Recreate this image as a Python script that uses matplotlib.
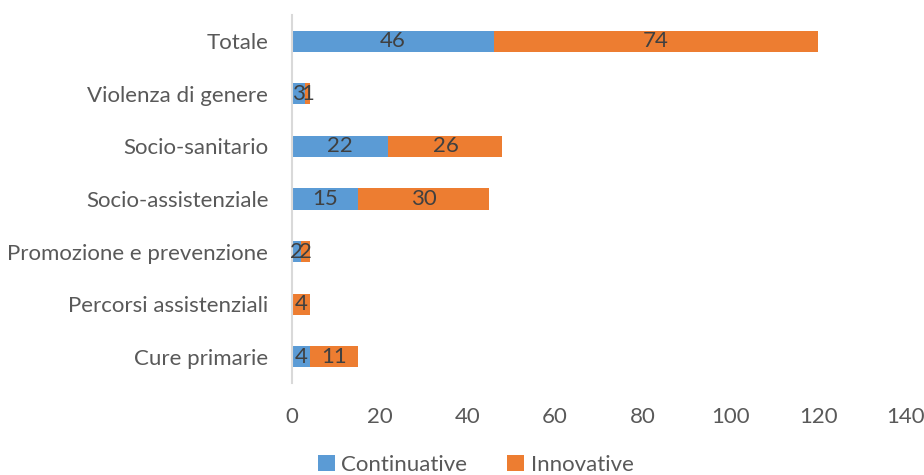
import matplotlib
matplotlib.use("Agg")
import matplotlib.pyplot as plt
import numpy as np

# Dati
categorie = ["Cure primarie", "Percorsi assistenziali", "Promozione e prevenzione",
             "Socio-assistenziale", "Socio-sanitario", "Violenza di genere", "Totale"]
continuative = [4, 0, 2, 15, 22, 3, 46]
innovative = [11, 4, 2, 30, 26, 1, 74]
tick_x = [0, 20, 40, 60, 80, 100, 120, 140]

BLU = "#5B9BD5"
ARANCIO = "#ED7D31"
GRIGIO = "#595959"
FS = 16

plt.rcParams['font.family'] = ['Lato', 'DejaVu Sans']

fig = plt.figure(figsize=(9.24, 4.75), dpi=100)
ax = fig.add_axes([0.316, 0.1937, 0.6645, 0.7747])

y = np.arange(len(categorie))
b1 = ax.barh(y, continuative, height=0.4, color=BLU, label="Continuative")
b2 = ax.barh(y, innovative, left=continuative, height=0.4, color=ARANCIO, label="Innovative")

# Etichette dei valori
for barre, valori in [(b1, continuative), (b2, innovative)]:
    for b, v in zip(barre, valori):
        if v == 0:
            continue
        ax.text(b.get_x() + b.get_width() / 2, b.get_y() + b.get_height() / 2, str(v),
                ha='center', va='center', fontsize=FS, color="#404040")

ax.set_xlim(0, 140)
ax.set_ylim(-0.5, len(categorie) - 0.5)
ax.set_xticks(tick_x)
ax.set_yticks(y)
ax.set_yticklabels(categorie)
ax.tick_params(axis='both', length=0, labelsize=FS, labelcolor=GRIGIO)
ax.tick_params(axis='x', pad=17)
ax.tick_params(axis='y', pad=17)

for lato in ['top', 'right', 'bottom']:
    ax.spines[lato].set_visible(False)
ax.spines['left'].set_color("#D9D9D9")
ax.spines['left'].set_linewidth(1.5)

fig.legend(handles=[b1, b2], loc='lower center', bbox_to_anchor=(0.515, -0.042), ncol=2,
           frameon=False, fontsize=FS, labelcolor=GRIGIO, handlelength=0.75, handleheight=0.75,
           handletextpad=0.3, columnspacing=1.8)

fig.savefig("out.png", dpi=100)
